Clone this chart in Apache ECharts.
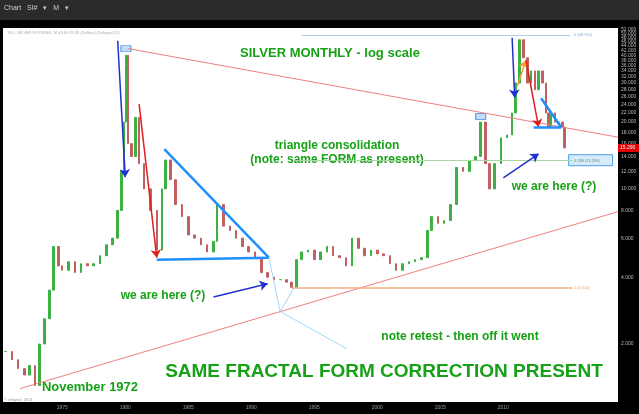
<!DOCTYPE html>
<html><head><meta charset="utf-8">
<script src="https://cdn.jsdelivr.net/npm/echarts@6/dist/echarts.min.js"></script>
<style>html,body{margin:0;padding:0;background:#000}#c{width:639px;height:414px}</style>
</head><body><div id="c"></div>
<script>
const years=[1970.5,1971.0,1971.5,1972.0,1972.4,1972.85,1973.2,1973.6,1974.0,1974.3,1974.7,1975.0,1975.5,1976.0,1976.5,1977.0,1977.5,1978.0,1978.5,1979.0,1979.4,1979.7,1979.9,1980.05,1980.2,1980.5,1980.8,1981.1,1981.5,1982.0,1982.5,1982.9,1983.2,1983.6,1984.0,1984.5,1985.0,1985.5,1986.0,1986.5,1987.0,1987.3,1987.8,1988.3,1988.8,1989.3,1989.8,1990.3,1990.8,1991.3,1991.8,1992.3,1992.8,1993.2,1993.6,1994.0,1994.5,1995.0,1995.5,1996.0,1996.5,1997.0,1997.5,1998.0,1998.5,1999.0,1999.5,2000.0,2000.5,2001.0,2001.5,2002.0,2002.5,2003.0,2003.5,2004.0,2004.3,2004.8,2005.3,2005.8,2006.3,2006.8,2007.3,2007.8,2008.2,2008.6,2008.9,2009.3,2009.8,2010.3,2010.7,2010.95,2011.3,2011.6,2011.9,2012.2,2012.5,2012.8,2013.1,2013.4,2013.6,2013.8,2014.1,2014.4,2014.7,2014.85];
const closes=[1.85,1.7,1.55,1.45,1.6,1.3,2.0,2.6,3.5,5.5,4.5,4.3,4.7,4.2,4.6,4.5,4.6,5.0,5.6,6.0,8.0,12,20,40,16,14,21,13,10,8,5.3,10,13.5,11,8.5,7.5,6.2,6.0,5.6,5.2,5.8,8.5,6.8,6.5,6.0,5.5,5.2,4.9,4.2,4.0,3.9,3.9,3.8,3.6,4.8,5.2,5.3,4.8,5.2,5.5,5.0,4.9,4.5,6.0,5.4,5.0,5.3,5.1,5.0,4.6,4.3,4.6,4.7,4.8,4.9,6.5,7.5,7.0,7.2,8.5,12.5,12.0,13.4,14.0,20,13,10,13,17,17.5,22,30,47,39,30,34,28,34,30,22,19,22,20,20,19,15.3];
const yearTicks=[1975,1980,1985,1990,1995,2000,2005,2010];
const priceTicks=[2,4,6,8,10,12,14,16,18,20,22,24,26,28,30,32,34,36,38,40,42,44,46,48,50,52];

const candles=years.map((y,i)=>{const o=i?closes[i-1]:closes[0];const c=closes[i];return [y,o,c,Math.min(o,c),Math.max(o,c)];});
const G='#17a117';
function ln(a,b,color,w,arrow,type){return [{coord:a,lineStyle:{color:color,width:w,type:type||'solid'},symbol:'none'},{coord:b,symbol:arrow?'arrow':'none',symbolSize:arrow?8:0}];}
const chart=echarts.init(document.getElementById('c'));
const lines=[
 ln([1980.2,42.9],[2019.1,17.1],'#f08080',1),
 ln([1971.67,1.26],[2019.1,7.9],'#f08080',1),
 ln([1979.4,46.5],[1980.0,11.3],'#2030d0',1.5,true),
 ln([1981.1,24.1],[1982.5,4.9],'#e02020',1.5,true),
 ln([1983.1,15.1],[1991.4,4.9],'#1e90ff',2.5),
 ln([1982.5,4.8],[1991.4,4.9],'#1e90ff',2.5),
 ln([1987.0,3.26],[1991.3,3.74],'#2030d0',1.5,true),
 ln([1991.4,4.9],[1992.3,2.8],'#87cefa',0.8),
 ln([1992.3,2.8],[1993.4,3.6],'#87cefa',0.8),
 ln([1992.3,2.8],[1997.6,1.9],'#87cefa',0.8),
 ln([1993.2,3.58],[2015.5,3.58],'#f4b183',1.5),
 ln([1993.3,13.4],[2015.5,13.4],'#a8d8a0',1),
 ln([1994.0,49.5],[2015.3,49.5],'#aaccf0',1),
 ln([2010.7,48],[2010.9,25.8],'#2030d0',1.5,true),
 ln([2011.1,29],[2011.8,38],'#f0a030',1.5,true),
 ln([2011.8,38],[2012.8,19],'#e02020',1.5,true),
 ln([2013.0,25.6],[2014.6,18.9],'#1e90ff',2.5),
 ln([2012.4,18.9],[2014.6,18.9],'#1e90ff',2.5),
 ln([2010.0,11.2],[2012.8,14.4],'#2030d0',1.5,true)
];
chart.setOption({
 animation:false,backgroundColor:'#000',
 grid:{left:3,right:21,top:28,bottom:12,show:true,backgroundColor:'#fff',borderWidth:0},
 xAxis:{type:'value',min:1970.3,max:2019.1,interval:5,axisLine:{show:false},axisTick:{show:false},splitLine:{show:false},
  axisLabel:{fontSize:5,color:'#999',margin:3,customValues:yearTicks,formatter:v=>yearTicks.includes(v)?String(v):''}},
 yAxis:{type:'log',logBase:2,min:1.096,max:53.1,position:'right',axisLine:{show:false},axisTick:{show:false},splitLine:{show:false},axisLabel:{show:false}},
 series:[{type:'candlestick',data:candles,encode:{x:0,y:[1,2,3,4]},barWidth:2,
  itemStyle:{color:'#3cb043',color0:'#c06060',borderColor:'#3cb043',borderColor0:'#c06060',borderWidth:1}},
  {type:'line',data:[],markLine:{silent:true,animation:false,label:{show:false},data:lines}},
  {type:'scatter',data:[[1980.05,42.9],[2008.2,21.2]],symbol:'rect',symbolSize:[10,6],itemStyle:{color:'rgba(100,170,240,0.5)',borderColor:'#4a90e2',borderWidth:1}}
 ]
});
const g=[];
g.push({type:'rect',shape:{x:0,y:0,width:639,height:20},style:{fill:'#2b2b2b'}});
g.push({type:'text',x:4,y:5,style:{text:'Chart   SI#   ▾   M   ▾',fill:'#ccc',fontSize:7,fontFamily:'Arial'}});
g.push({type:'text',x:8,y:31,style:{text:'SI# - SILVER FUTURES, M 49.69 49.35 (Dollars) (Delayed 15)',fill:'#aaa',fontSize:4,fontFamily:'Arial'}});
priceTicks.forEach(p=>{const pt=chart.convertToPixel({gridIndex:0},[2019.1,p]);g.push({type:'text',x:pt[0]+3,y:pt[1],style:{text:p.toFixed(3),fill:'#bbb',fontSize:5,fontFamily:'Arial',verticalAlign:'middle'}});});
let lp=chart.convertToPixel({gridIndex:0},[2019.1,15.29]);
g.push({type:'rect',shape:{x:lp[0],y:lp[1]-4,width:21,height:8},style:{fill:'#e00000'}});
g.push({type:'text',x:lp[0]+2,y:lp[1],style:{text:'15.290',fill:'#fff',fontSize:5,verticalAlign:'middle'}});
const fibs=[[49.5,'0 (48.765)','#7fb0e0'],[13.4,'0.786 (13.396)','#40a040'],[3.58,'1 (3.510)','#f0a070']];
fibs.forEach(f=>{const pt=chart.convertToPixel({gridIndex:0},[2015.6,f[0]]);g.push({type:'text',x:pt[0],y:pt[1],style:{text:f[1],fill:f[2],fontSize:4,verticalAlign:'middle'}});});
let bp=chart.convertToPixel({gridIndex:0},[2015.5,13.4]);
g.push({type:'rect',shape:{x:bp[0]-4,y:bp[1]-6,width:44,height:11},style:{fill:'rgba(100,170,240,0.25)',stroke:'#4aa0ea',lineWidth:1}});
function T(t,x,y,s,al){g.push({type:'text',x:x,y:y,style:{text:t,fill:G,fontSize:s,fontWeight:'bold',fontFamily:'Arial',align:al||'center',verticalAlign:'middle'}});}
T('SILVER MONTHLY - log scale',330,53,13);
T('triangle consolidation',337,146,12);
T('(note: same FORM as present)',337,160,12);
T('we are here (?)',163,296,12);
T('we are here (?)',554,187,12);
T('note retest - then off it went',460,337,12);
T('SAME FRACTAL FORM CORRECTION PRESENT',384,372,19);
T('November 1972',90,387,13);
g.push({type:'text',x:4,y:398,style:{text:'© eSignal, 2014',fill:'#999',fontSize:4}});
chart.setOption({graphic:g});
</script></body></html>
